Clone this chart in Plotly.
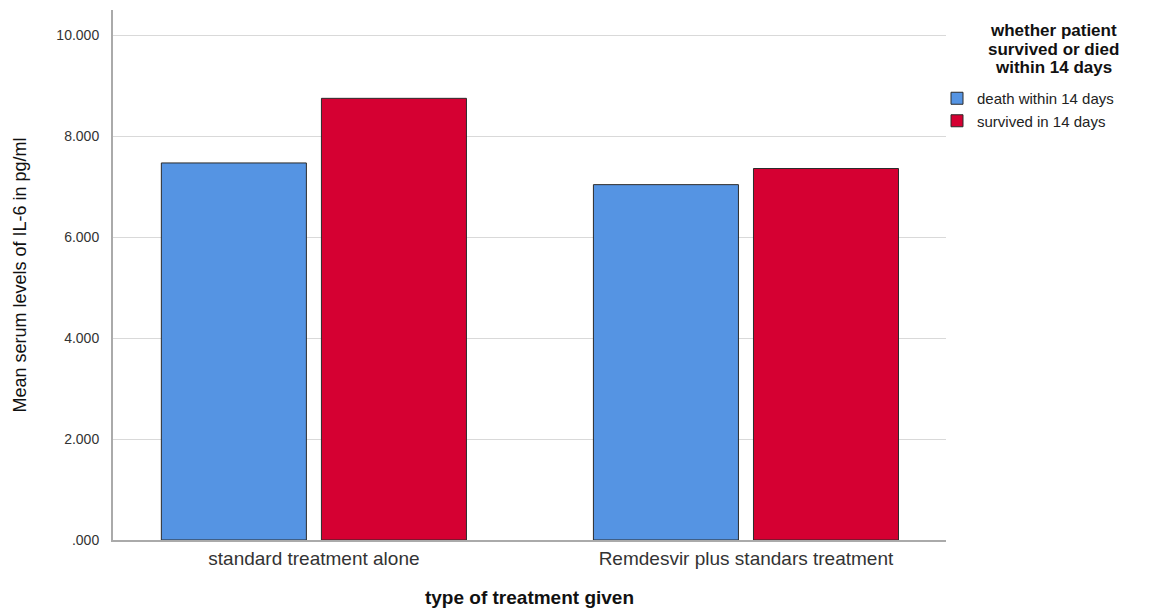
import plotly.graph_objects as go

categories = ["standard treatment alone", "Remdesvir plus standars treatment"]
death_values = [7.47, 7.04]
survived_values = [8.75, 7.36]
series_names = ["death within 14 days", "survived in 14 days"]
tick_values = [0, 2, 4, 6, 8, 10]
tick_labels = [".000", "2.000", "4.000", "6.000", "8.000", "10.000"]
legend_title_lines = ["whether patient", "survived or died", "within 14 days"]

FONT = "Liberation Sans, Arial, sans-serif"
BLUE = "#5594E3"
RED = "#D50032"

# the page adds an 8px body margin, so the figure is sized 8px smaller
W, H = 1154, 605
L, R, T, B = 105, 216, 2, 73
PW, PH = W - L - R, H - T - B

fig = go.Figure()
fig.add_trace(go.Bar(x=categories, y=death_values, name=series_names[0],
                     marker=dict(color=BLUE, line=dict(color="#2b2b2b", width=1))))
fig.add_trace(go.Bar(x=categories, y=survived_values, name=series_names[1],
                     marker=dict(color=RED, line=dict(color="#2b2b2b", width=1))))

annotations = []
for line, yc in zip(legend_title_lines, [23, 42, 60]):
    annotations.append(dict(text="<b>" + line + "</b>", x=(1045 - L) / PW, xref="paper",
                            y=(H - B - yc) / PH, yref="paper",
                            showarrow=False, xanchor="center", yanchor="middle",
                            font=dict(size=17, color="#111", family=FONT)))

fig.update_layout(
    width=W, height=H,
    margin=dict(l=L, r=R, t=T, b=B, autoexpand=False),
    paper_bgcolor="white", plot_bgcolor="white",
    barmode="group", bargap=0.259, bargroupgap=0.094,
    font=dict(family=FONT, color="#222"),
    showlegend=True,
    legend=dict(x=(929 - L) / PW, xanchor="left", y=1 - 74 / H, yref="container", yanchor="top",
                font=dict(size=15, color="#222", family=FONT),
                itemwidth=30, tracegroupgap=0, itemclick=False,
                bgcolor="rgba(0,0,0,0)"),
    xaxis=dict(range=[-0.465, 1.463], showgrid=False, showline=True, linecolor="#aaaaaa",
               linewidth=2, ticks="", ticklabelstandoff=0,
               tickfont=dict(size=19, color="#333", family=FONT),
               title=dict(text="<b>type of treatment given</b>", font=dict(size=19, color="#111", family=FONT),
                          standoff=23)),
    yaxis=dict(range=[0, 10.5], tickvals=tick_values, ticktext=tick_labels,
               showgrid=True, gridcolor="#d9d9d9", gridwidth=1,
               showline=True, linecolor="#aaaaaa", linewidth=2, zeroline=False,
               ticks="", ticklabelstandoff=9,
               tickfont=dict(size=14, color="#333", family=FONT),
               title=dict(text="Mean serum levels of IL-6 in pg/ml",
                          font=dict(size=18, color="#111", family="Liberation Sans Narrow, Arial Narrow, Liberation Sans, sans-serif"),
                          standoff=25)),
    annotations=annotations,
)
fig.write_html("out.html")
